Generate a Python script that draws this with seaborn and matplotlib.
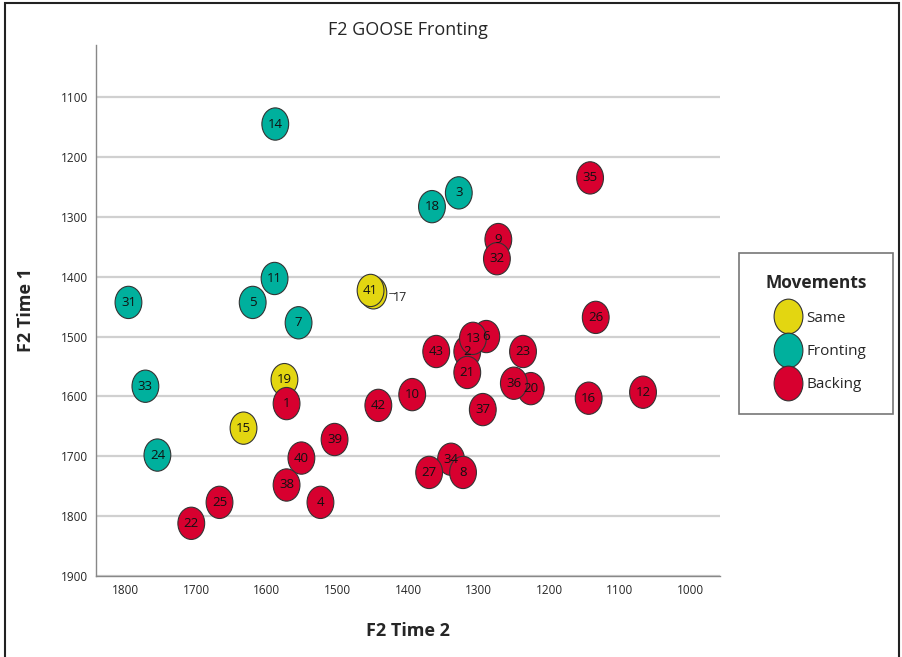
import numpy as np
import pandas as pd
import matplotlib
matplotlib.use("Agg")
import matplotlib.pyplot as plt
from matplotlib.path import Path
from matplotlib.lines import Line2D
from matplotlib.patches import Rectangle
import seaborn as sns

# speaker ids, F2 at time 2 (x), F2 at time 1 (y), movement category
ids = [14, 35, 3, 18, 9, 32, 11, 17, 41, 31, 5, 7, 26, 2, 6, 13, 43, 23, 21,
       20, 36, 37, 16, 12, 10, 42, 19, 1, 33, 15, 39, 40, 24, 38, 4, 34, 27, 8,
       25, 22]
f2_time2 = [1588, 1142, 1328, 1366, 1272, 1274, 1589, 1449, 1453, 1796, 1620,
            1555, 1134, 1316, 1289, 1308, 1360, 1237, 1316, 1226, 1250, 1294,
            1144, 1067, 1394, 1442, 1575, 1572, 1772, 1633, 1504, 1551, 1755,
            1572, 1524, 1339, 1370, 1322, 1667, 1707]
f2_time1 = [1145, 1235, 1260, 1283, 1338, 1370, 1403, 1427, 1423, 1443, 1443,
            1477, 1468, 1525, 1500, 1503, 1525, 1525, 1560, 1587, 1578, 1622,
            1603, 1593, 1597, 1615, 1572, 1612, 1583, 1653, 1672, 1703, 1698,
            1748, 1777, 1705, 1727, 1727, 1777, 1812]
movement = ["Fronting", "Backing", "Fronting", "Fronting", "Backing", "Backing",
            "Fronting", "Same", "Same", "Fronting", "Fronting", "Fronting",
            "Backing", "Backing", "Backing", "Backing", "Backing", "Backing",
            "Backing", "Backing", "Backing", "Backing", "Backing", "Backing",
            "Backing", "Backing", "Same", "Backing", "Fronting", "Same",
            "Backing", "Backing", "Fronting", "Backing", "Backing", "Backing",
            "Backing", "Backing", "Backing", "Backing"]
categories = ["Same", "Fronting", "Backing"]
colors = ["#e3d611", "#00b09d", "#d7002f"]
x_ticks = [1800, 1700, 1600, 1500, 1400, 1300, 1200, 1100, 1000]
y_ticks = [1100, 1200, 1300, 1400, 1500, 1600, 1700, 1800, 1900]

df = pd.DataFrame({"id": ids, "x": f2_time2, "y": f2_time1, "Movements": movement})

sns.set_style("white")
plt.rcParams["font.family"] = ["Open Sans", "DejaVu Sans"]

# slightly tall ellipse marker
circ = Path.unit_circle()
ellipse = Path(circ.vertices * np.array([0.83, 1.0]), circ.codes)

fig = plt.figure(figsize=(9.03, 6.57), dpi=100)
ax = fig.add_axes([0.1063, 0.1233, 0.6910, 0.8082])

palette = dict(zip(categories, colors))
sns.scatterplot(data=df, x="x", y="y", hue="Movements", palette=palette,
                marker=ellipse, s=540, edgecolor="#333333", linewidth=0.8,
                legend=False, ax=ax, zorder=3)

for i, row in df.iterrows():
    if row["id"] == 17:
        ax.annotate("17", xy=(row["x"], row["y"]), xytext=(14, -3),
                    textcoords="offset points", fontsize=9, va="center",
                    zorder=5)
        ax.plot([row["x"] - 22, row["x"] - 30], [row["y"], row["y"]],
                color="#333333", lw=0.6, zorder=2)
        continue
    ax.text(row["x"], row["y"], str(row["id"]), ha="center", va="center",
            fontsize=9.5, color="#111111", zorder=5)

ax.set_xlim(1842, 958)
ax.set_ylim(1900, 1013)
ax.set_xticks(x_ticks)
ax.set_yticks(y_ticks)
ax.tick_params(labelsize=8.5, length=0, pad=6)
ax.yaxis.grid(True, color="#d0d0d0", linewidth=1.6, zorder=0)
ax.set_axisbelow(True)
for s in ["top", "right"]:
    ax.spines[s].set_visible(False)
for s in ["left", "bottom"]:
    ax.spines[s].set_color("#888888")
    ax.spines[s].set_linewidth(1.0)

ax.set_xlabel("F2 Time 2", fontsize=13, fontweight="bold", labelpad=18)
ax.set_ylabel("F2 Time 1", fontsize=13, fontweight="bold", labelpad=18)
ax.set_title("F2 GOOSE Fronting", fontsize=13, pad=7)

handles = [Line2D([0], [0], marker=ellipse, linestyle="", markersize=25,
                  markerfacecolor=c, markeredgecolor="#333333",
                  markeredgewidth=0.8, label=k)
           for k, c in zip(categories, colors)]
leg = ax.legend(handles=handles, title="Movements", loc="upper left",
                bbox_to_anchor=(1.0304, 0.3083, 0.2468, 0.3), mode="expand",
                frameon=True, fontsize=11,
                title_fontproperties={"size": 12.5, "weight": "bold"},
                labelspacing=1.2, handletextpad=-0.6, borderpad=1.4,
                handlelength=3.6, fancybox=False, edgecolor="#555555",
                borderaxespad=0)
leg.get_frame().set_linewidth(1.2)

fig.patches.append(Rectangle((0.006, -0.01), 0.990, 1.005,
                             transform=fig.transFigure, fill=False,
                             edgecolor="#222222", linewidth=1.5))

fig.savefig("out.png", dpi=100)
